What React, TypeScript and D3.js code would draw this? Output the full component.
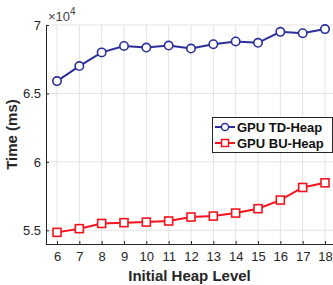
import { useEffect, useRef } from 'react';
import * as d3 from 'd3';

// initial heap level on the x-axis
const levels = [6, 7, 8, 9, 10, 11, 12, 13, 14, 15, 16, 17, 18];
// time in units of 10^4 ms
const tdHeap = [6.59, 6.70, 6.80, 6.847, 6.835, 6.85, 6.828, 6.86, 6.88, 6.87, 6.95, 6.94, 6.97];
const buHeap = [5.485, 5.512, 5.55, 5.556, 5.56, 5.568, 5.597, 5.604, 5.626, 5.658, 5.721, 5.813, 5.847];
const yTicks = [5.5, 6, 6.5, 7];
const seriesNames = ['GPU TD-Heap', 'GPU BU-Heap'];

const App = () => {
    const svgRef = useRef<SVGSVGElement>(null);

    useEffect(() => {
        const width = 333;
        const height = 285;
        const margin = { top: 25, right: 0, bottom: 41, left: 46 };
        const font = "'Liberation Sans', Arial, Helvetica, sans-serif";
        const axisColor = '#262626';
        const blue = '#2b2f9a';
        const red = '#f5141e';

        const svg = d3.select(svgRef.current)
            .attr('width', width)
            .attr('height', height);
        svg.selectAll('*').remove();

        // x: 6 sits at ~57px, 18 at ~325px
        const xScale = d3.scaleLinear()
            .domain([6, 18])
            .range([57, 325]);
        const yScale = d3.scaleLinear()
            .domain([5.4, 7])
            .range([height - margin.bottom, margin.top]);

        const left = margin.left;
        const bottom = height - margin.bottom;

        // grid lines
        svg.append('g')
            .selectAll('line')
            .data(levels)
            .enter()
            .append('line')
            .attr('x1', d => xScale(d))
            .attr('x2', d => xScale(d))
            .attr('y1', margin.top)
            .attr('y2', bottom)
            .attr('stroke', '#e3e3e3')
            .attr('stroke-width', 1);

        svg.append('g')
            .selectAll('line')
            .data(yTicks)
            .enter()
            .append('line')
            .attr('x1', left)
            .attr('x2', width)
            .attr('y1', d => yScale(d))
            .attr('y2', d => yScale(d))
            .attr('stroke', '#e3e3e3')
            .attr('stroke-width', 1);

        // axes (MATLAB style, ticks inside)
        const xAxis = svg.append('g')
            .attr('transform', `translate(0, ${bottom})`)
            .call(d3.axisBottom(xScale).tickValues(levels).tickSizeInner(-3).tickSizeOuter(0).tickPadding(8));
        xAxis.select('.domain').attr('d', `M${left},0.5H${width}`);
        const yAxis = svg.append('g')
            .attr('transform', `translate(${left}, 0)`)
            .call(d3.axisLeft(yScale).tickValues(yTicks).tickFormat(d3.format('')).tickSizeInner(-3).tickSizeOuter(0).tickPadding(5));
        yAxis.select('.domain').attr('d', `M0.5,${margin.top}V${bottom}`);

        [xAxis, yAxis].forEach(ax => {
            ax.select('.domain').attr('stroke', axisColor);
            ax.selectAll('.tick line').attr('stroke', axisColor);
            ax.selectAll('.tick text')
                .style('font-family', font)
                .style('font-size', '13px')
                .attr('fill', axisColor);
        });

        // exponent label
        const expo = svg.append('text')
            .attr('x', left + 2)
            .attr('y', 21)
            .style('font-family', font)
            .style('font-size', '13px')
            .attr('fill', '#444');
        expo.append('tspan').text('\u00d710');
        expo.append('tspan').attr('dy', -6).style('font-size', '10px').text('4');

        // axis labels
        svg.append('text')
            .attr('x', (left + width) / 2)
            .attr('y', 281)
            .attr('text-anchor', 'middle')
            .style('font-family', font)
            .style('font-size', '15px')
            .style('font-weight', 'bold')
            .attr('fill', axisColor)
            .text('Initial Heap Level');

        svg.append('text')
            .attr('transform', `translate(17, ${(margin.top + bottom) / 2}) rotate(-90)`)
            .attr('text-anchor', 'middle')
            .style('font-family', font)
            .style('font-size', '15px')
            .style('font-weight', 'bold')
            .attr('fill', axisColor)
            .text('Time (ms)');

        const line = d3.line<number>()
            .x((d, i) => xScale(levels[i]))
            .y(d => yScale(d));

        // TD series
        svg.append('path')
            .datum(tdHeap)
            .attr('d', line)
            .attr('fill', 'none')
            .attr('stroke', blue)
            .attr('stroke-width', 2);
        svg.selectAll('.td-marker')
            .data(tdHeap)
            .enter()
            .append('circle')
            .attr('class', 'td-marker')
            .attr('cx', (d, i) => xScale(levels[i]))
            .attr('cy', d => yScale(d))
            .attr('r', 4.2)
            .attr('fill', 'white')
            .attr('stroke', blue)
            .attr('stroke-width', 1.6);

        // BU series
        svg.append('path')
            .datum(buHeap)
            .attr('d', line)
            .attr('fill', 'none')
            .attr('stroke', red)
            .attr('stroke-width', 2);
        svg.selectAll('.bu-marker')
            .data(buHeap)
            .enter()
            .append('rect')
            .attr('class', 'bu-marker')
            .attr('x', (d, i) => xScale(levels[i]) - 4)
            .attr('y', d => yScale(d) - 4)
            .attr('width', 8)
            .attr('height', 8)
            .attr('fill', 'white')
            .attr('stroke', red)
            .attr('stroke-width', 1.6);

        // legend
        const legend = svg.append('g');
        legend.append('rect')
            .attr('x', 212.5)
            .attr('y', 117.5)
            .attr('width', 120)
            .attr('height', 35)
            .attr('fill', 'white')
            .attr('stroke', axisColor)
            .attr('stroke-width', 1);
        const colors = [blue, red];
        seriesNames.forEach((name, i) => {
            const cy = 127 + i * 16;
            legend.append('line')
                .attr('x1', 215)
                .attr('x2', 235)
                .attr('y1', cy)
                .attr('y2', cy)
                .attr('stroke', colors[i])
                .attr('stroke-width', 2);
            if (i === 0) {
                legend.append('circle')
                    .attr('cx', 225)
                    .attr('cy', cy)
                    .attr('r', 3.6)
                    .attr('fill', 'white')
                    .attr('stroke', blue)
                    .attr('stroke-width', 1.5);
            } else {
                legend.append('rect')
                    .attr('x', 221.5)
                    .attr('y', cy - 3.5)
                    .attr('width', 7)
                    .attr('height', 7)
                    .attr('fill', 'white')
                    .attr('stroke', red)
                    .attr('stroke-width', 1.5);
            }
            legend.append('text')
                .attr('x', 237)
                .attr('y', cy + 4.5)
                .style('font-family', font)
                .style('font-size', '13px')
                .style('font-weight', 'bold')
                .attr('fill', '#111')
                .text(name);
        });
    }, []);

    return <svg ref={svgRef} style={{ position: 'absolute', left: 0, top: 0 }} />;
};

export default App;
